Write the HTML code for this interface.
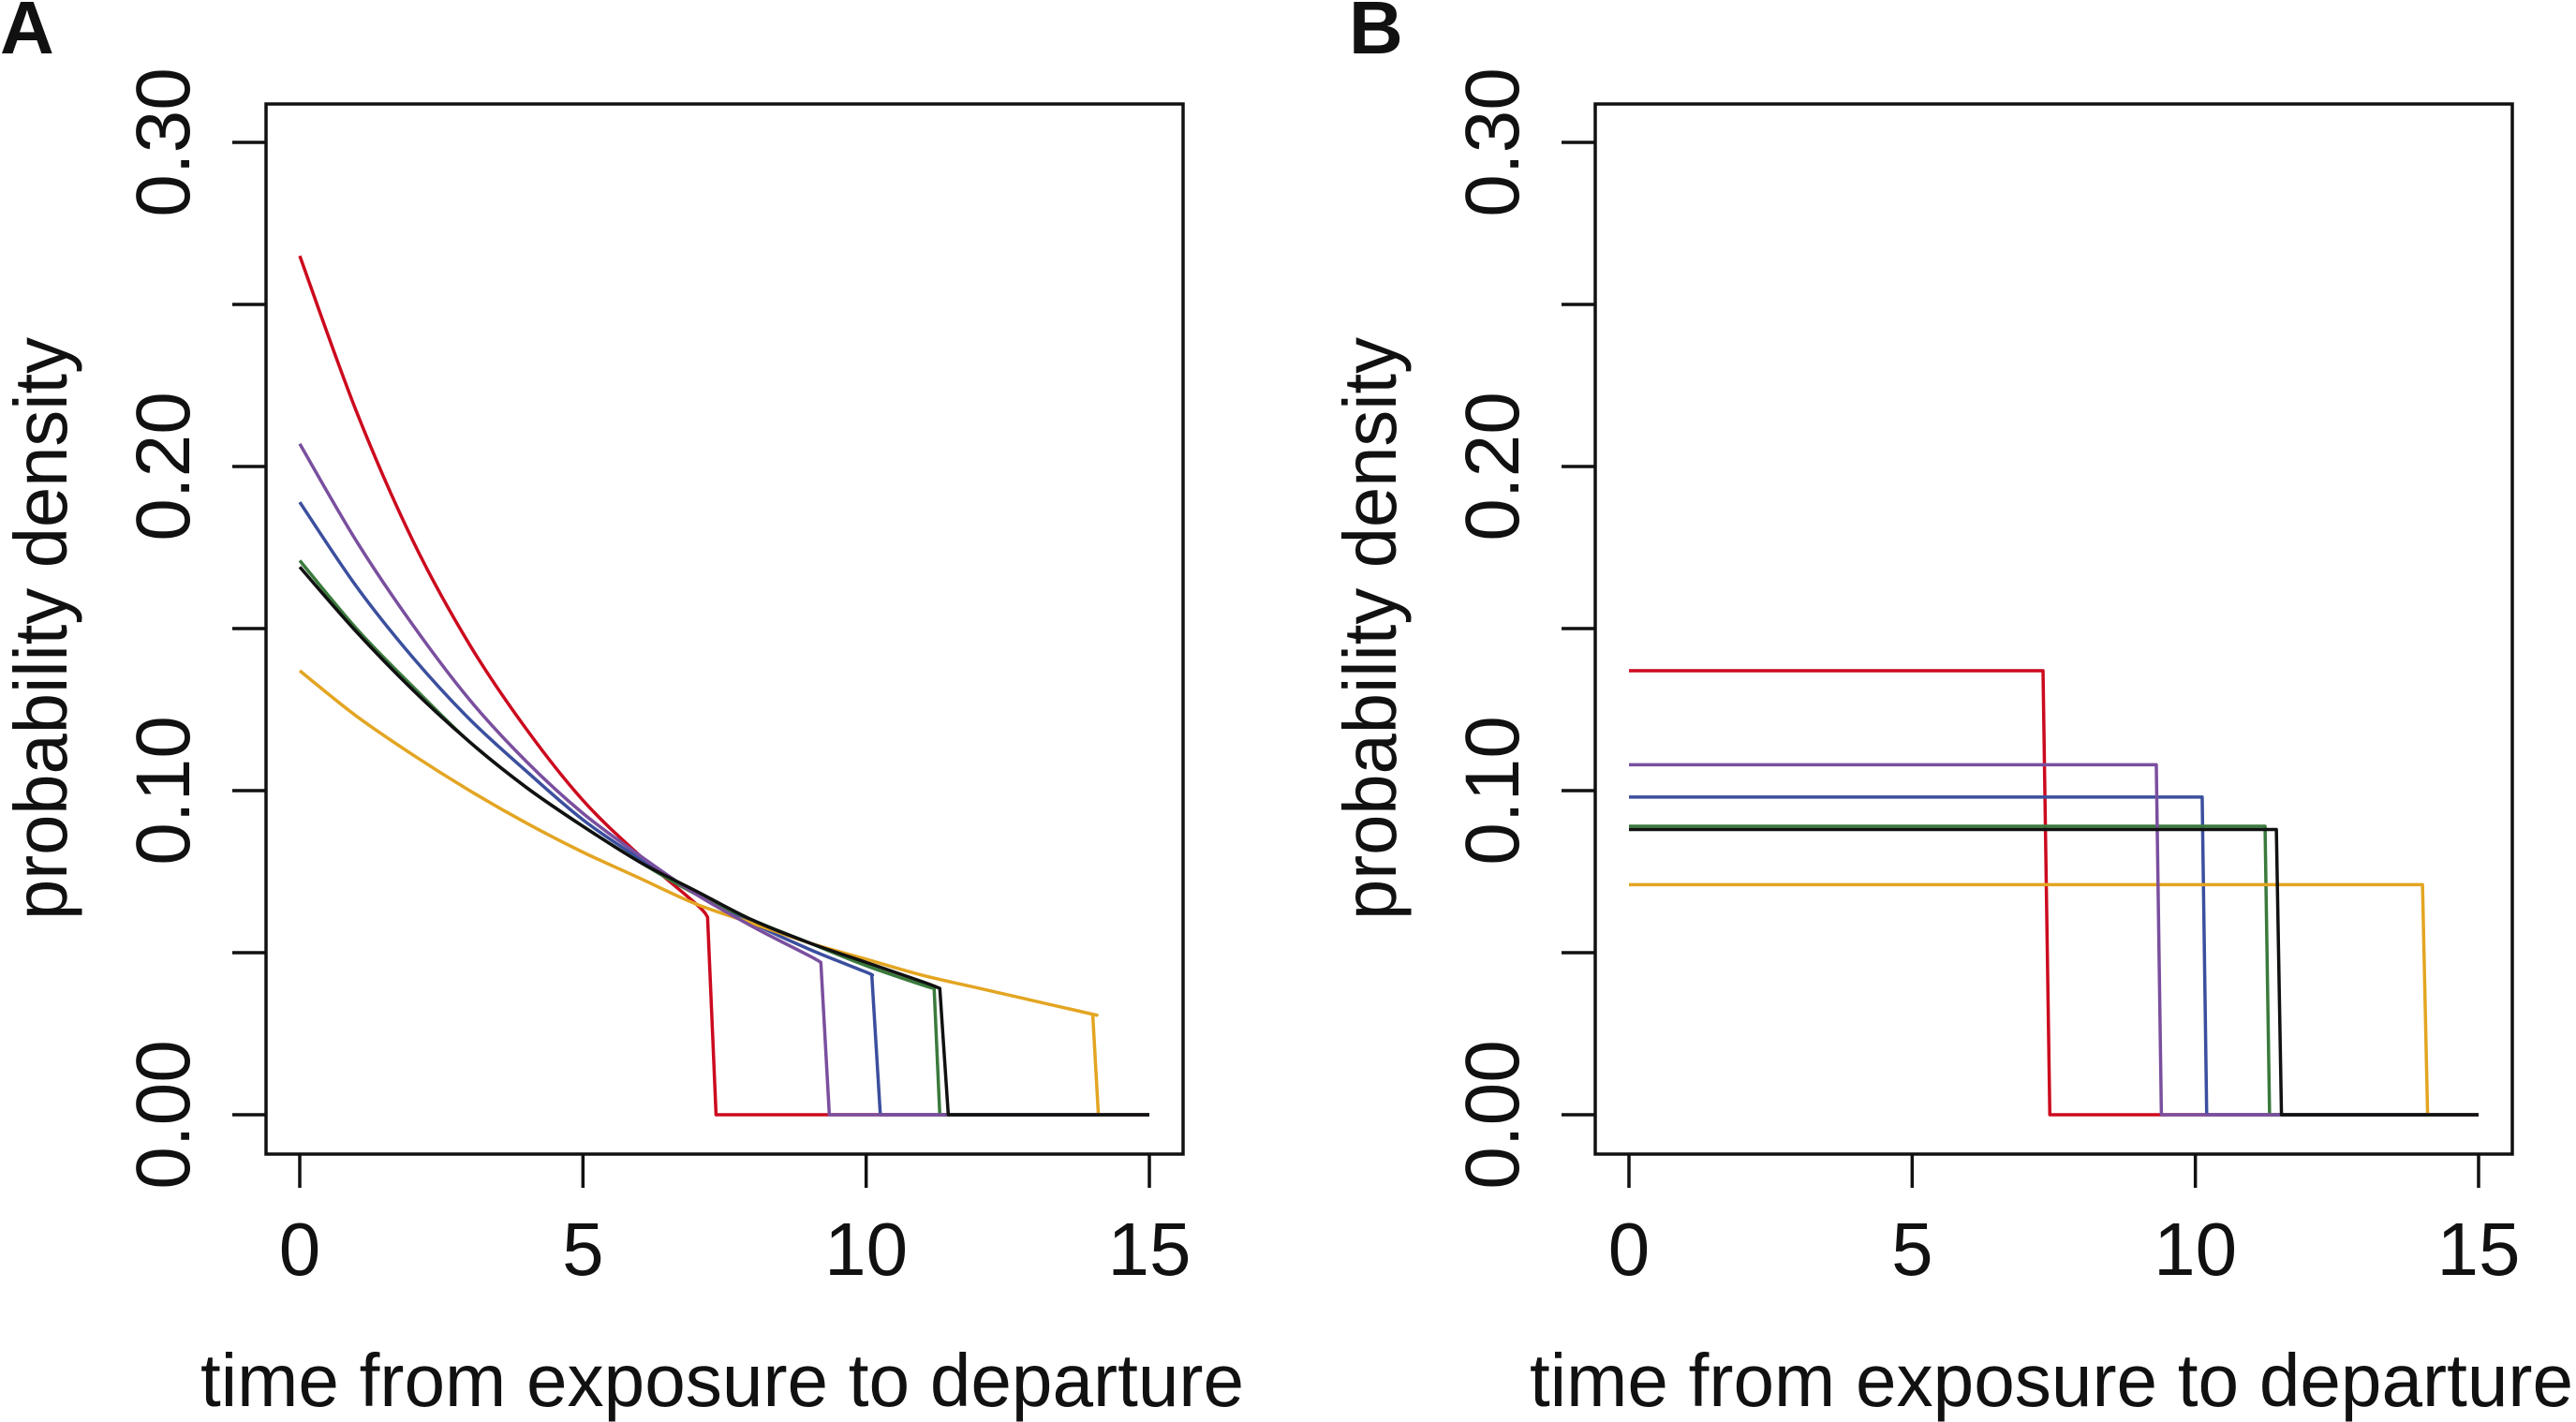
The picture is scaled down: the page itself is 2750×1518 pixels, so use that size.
<!DOCTYPE html>
<html><head><meta charset="utf-8"><style>
html,body{margin:0;padding:0;background:#fff;}
svg{display:block;font-family:"Liberation Sans",sans-serif;}
</style></head><body>
<svg id="fig" width="2750" height="1518" viewBox="0 0 2750 1518" xmlns="http://www.w3.org/2000/svg"></svg>
<script>
// ---- data ----
const xTicks = [0, 5, 10, 15];
const yTicks = [0, 0.05, 0.10, 0.15, 0.20, 0.25, 0.30];
const yTickLabels = ["0.00", "", "0.10", "", "0.20", "", "0.30"];
const seriesNames = ["red", "blue", "green", "orange", "purple", "black"];
const seriesColors = ["#cc0a1e", "#3b4f9e", "#3a7a3c", "#e3a522", "#7a4f9e", "#111111"];
// Panel A: density sampled at x = 0,1,2,... plus value at cutoff
const aRed    = [0.265,0.217,0.177,0.145,0.119,0.097,0.080,0.065];
const aBlue   = [0.189,0.163,0.141,0.122,0.106,0.091,0.079,0.068,0.059,0.051,0.044];
const aGreen  = [0.171,0.150,0.132,0.115,0.101,0.089,0.078,0.068,0.060,0.053,0.046,0.040];
const aOrange = [0.137,0.123,0.111,0.100,0.090,0.081,0.073,0.065,0.059,0.053,0.048,0.043,0.039,0.035,0.031];
const aPurple = [0.207,0.177,0.151,0.128,0.109,0.093,0.080,0.068,0.058,0.049];
const aBlack  = [0.169,0.149,0.131,0.115,0.101,0.089,0.078,0.069,0.060,0.053,0.047,0.041];
const aCutTop    = [7.2, 10.1, 11.2, 14.0, 9.2, 11.3];
const aCutValue  = [0.061, 0.043, 0.039, 0.031, 0.047, 0.039];
const aCutBottom = [7.35, 10.25, 11.3, 14.1, 9.35, 11.45];
// Panel B: uniform densities
const bHeight    = [0.137, 0.098, 0.089, 0.071, 0.108, 0.088];
const bCutTop    = [7.31, 10.12, 11.23, 14.01, 9.31, 11.43];
const bCutBottom = [7.43, 10.2, 11.31, 14.1, 9.4, 11.52];
const xEnd = 15;

// ---- layout ----
const svg = document.getElementById('fig');
const NS = 'http://www.w3.org/2000/svg';
function mk(tag, attrs, parent){
  const e = document.createElementNS(NS, tag);
  for (const k in attrs) e.setAttribute(k, attrs[k]);
  (parent||svg).appendChild(e);
  return e;
}
const plotTop = 111, plotBottom = 1232, y0px = 1190, y30px = 152;
function yScale(v){ return y0px + (y30px - y0px) * v / 0.30; }

function smoothPath(pts){
  let d = `M${pts[0][0]},${pts[0][1]}`;
  for (let i = 0; i < pts.length - 1; i++) {
    const p0 = pts[Math.max(0, i - 1)], p1 = pts[i], p2 = pts[i + 1], p3 = pts[Math.min(pts.length - 1, i + 2)];
    const c1 = [p1[0] + (p2[0] - p0[0]) / 6, p1[1] + (p2[1] - p0[1]) / 6];
    const c2 = [p2[0] - (p3[0] - p1[0]) / 6, p2[1] - (p3[1] - p1[1]) / 6];
    d += ` C${c1[0]},${c1[1]} ${c2[0]},${c2[1]} ${p2[0]},${p2[1]}`;
  }
  return d;
}

function panel(off, letter, tag, buildSeries){
  const left = 284 + off, right = 1263 + off;
  const x0 = 320 + off, x15 = 1227 + off;
  const xScale = v => x0 + (x15 - x0) * v / 15;
  const g = mk('g', {});
  
  

  const lab = mk('text', {x: off + (off ? 21 : 0), y: 57, 'font-size': 80, 'font-weight': 'bold', fill: '#111'}, g);
  lab.textContent = letter;
  
  

  const sg = mk('g', {fill: 'none', 'stroke-width': 3.5, 'stroke-linejoin': 'round'}, g);
  
  
  buildSeries(sg, xScale);

  const box = mk('rect', {x: left, y: plotTop, width: right - left, height: plotBottom - plotTop, fill: 'none', stroke: '#111', 'stroke-width': 3.5}, g);
  
  

  yTicks.forEach((t, i) => {
    const y = yScale(t);
    const tk = mk('line', {x1: left - 36, x2: left, y1: y, y2: y, stroke: '#111', 'stroke-width': 3.5}, g);
    
    
    if (yTickLabels[i]) {
      const tx = mk('text', {x: 0, y: 0, transform: `translate(${202 + off},${y}) rotate(-90)`, 'text-anchor': 'middle', 'font-size': 82, fill: '#111'}, g);
      tx.textContent = yTickLabels[i];
      
      
    }
  });
  xTicks.forEach(t => {
    const x = xScale(t);
    const tk = mk('line', {x1: x, x2: x, y1: plotBottom, y2: 1268, stroke: '#111', 'stroke-width': 3.5}, g);
    
    
    const tx = mk('text', {x: x, y: 1361, 'text-anchor': 'middle', 'font-size': 80, fill: '#111'}, g);
    tx.textContent = String(t);
    
    
  });
  const xl = mk('text', {x: 214 + off, y: 1501, 'font-size': 80, fill: '#111', textLength: 1114, lengthAdjust: 'spacingAndGlyphs'}, g);
  xl.textContent = 'time from exposure to departure';
  
  
  const yl = mk('text', {x: 0, y: 0, transform: `translate(${71 + off},671) rotate(-90)`, 'text-anchor': 'middle', 'font-size': 80, fill: '#111', textLength: 622, lengthAdjust: 'spacingAndGlyphs'}, g);
  yl.textContent = 'probability density';
  
  
}

const aData = [aRed, aBlue, aGreen, aOrange, aPurple, aBlack];

panel(0, 'A', 'a', (sg, xScale) => {
  aData.forEach((arr, s) => {
    const pts = arr.map((v, i) => [xScale(i), yScale(v)]);
    pts.push([xScale(aCutTop[s]), yScale(aCutValue[s])]);
    let d = smoothPath(pts);
    d += ` L${xScale(aCutBottom[s])},${yScale(0)} L${xScale(xEnd)},${yScale(0)}`;
    const p = mk('path', {d: d, stroke: seriesColors[s]}, sg);
    
    
  });
});

panel(1419, 'B', 'b', (sg, xScale) => {
  bHeight.forEach((h, s) => {
    const pts = [[xScale(0), yScale(h)], [xScale(bCutTop[s]), yScale(h)], [xScale(bCutBottom[s]), yScale(0)], [xScale(xEnd), yScale(0)]];
    const p = mk('polyline', {points: pts.map(q => q.join(',')).join(' '), stroke: seriesColors[s]}, sg);
    
    
  });
});
</script>
</body></html>
